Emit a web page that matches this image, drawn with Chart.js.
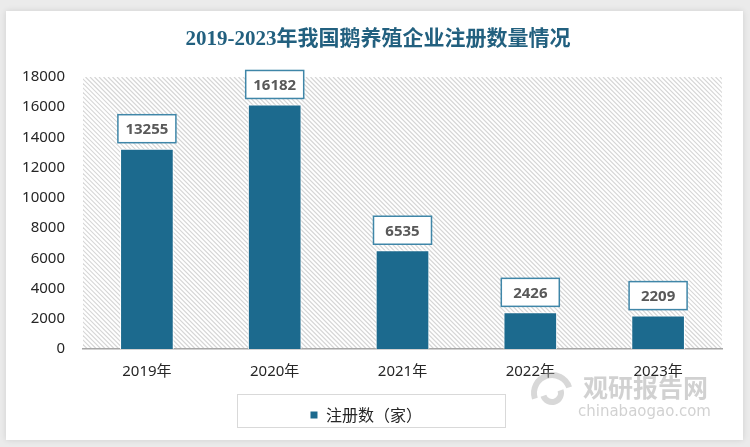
<!DOCTYPE html>
<html>
<head>
<meta charset="utf-8">
<script src="https://cdn.jsdelivr.net/npm/chart.js@4/dist/chart.umd.min.js"></script>
<style>
  html, body { margin: 0; padding: 0; background: #ebebeb; }
  #wrap { width: 750px; height: 447px; position: relative; }
</style>
</head>
<body>
<div id="wrap"><canvas id="regChart" width="750" height="447"></canvas></div>
<script>
// data
var years = ["2019年", "2020年", "2021年", "2022年", "2023年"];
var counts = [13255, 16182, 6535, 2426, 2209];
var seriesName = "注册数（家）";
var titleText = "2019-2023年我国鹅养殖企业注册数量情况";
var yMax = 18000;
var yStep = 2000;

var barColor = "#1c6a8e";
var cjk = '"Noto Sans CJK SC", "Noto Sans", sans-serif';

// white card + title + hatched plot area
var backdrop = {
    id: "backdrop",
    beforeDraw: function(chart) {
	var c = chart.ctx;
	var a = chart.chartArea;
	c.save();
	c.fillStyle = "#ebebeb";
	c.fillRect(0, 0, chart.width, chart.height);
	c.shadowColor = "rgba(0,0,0,0.12)";
	c.shadowBlur = 6;
	c.fillStyle = "#ffffff";
	c.fillRect(6, 11, 737, 429);
	c.shadowBlur = 0;

	// title
	c.fillStyle = "#22607f";
	c.font = 'bold 21px "Liberation Serif", "Noto Sans CJK SC", serif';
	c.textAlign = "center";
	c.textBaseline = "middle";
	c.fillText(titleText, 378, 40);

	// diagonal hatch
	c.beginPath();
	c.rect(a.left, a.top, a.right - a.left, a.bottom - a.top);
	c.clip();
	c.strokeStyle = "#d6d6d6";
	c.lineWidth = 1.2;
	var h = a.bottom - a.top;
	for (var x = a.left - h; x < a.right + h; x += 4.5) {
	    c.beginPath();
	    c.moveTo(x, a.top);
	    c.lineTo(x + h, a.bottom);
	    c.stroke();
	}
	c.restore();
    },
    afterDatasetsDraw: function(chart) {
	var c = chart.ctx;
	var meta = chart.getDatasetMeta(0);
	c.save();
	c.font = 'bold 15px "Noto Sans", sans-serif';
	c.textAlign = "center";
	c.textBaseline = "middle";
	meta.data.forEach(function(bar, i) {
	    var txt = String(counts[i]);
	    var w = 58, h = 28;
	    var bx = bar.x - w / 2, by = bar.y - 6 - h;
	    c.fillStyle = "#ffffff";
	    c.fillRect(bx, by, w, h);
	    c.strokeStyle = "#3f86a8";
	    c.lineWidth = 1.5;
	    c.strokeRect(bx, by, w, h);
	    c.fillStyle = "#595959";
	    c.fillText(txt, bar.x, by + h / 2 + 1);
	});
	c.restore();
    },
    afterDraw: function(chart) {
	var c = chart.ctx;
	c.save();
	// box round the legend
	c.strokeStyle = "#d9d9d9";
	c.lineWidth = 1;
	c.strokeRect(237.5, 394.5, 268, 33);

	// watermark
	c.globalAlpha = 0.45;
	c.fillStyle = "#9a9a9a";
	c.font = 'bold 25px "Noto Sans CJK SC", sans-serif';
	c.textAlign = "left";
	c.textBaseline = "middle";
	c.fillText("观研报告网", 583, 387);
	c.font = '15px "DejaVu Sans", sans-serif';
	c.fillText("chinabaogao.com", 578, 412);
	c.lineWidth = 6;
	c.strokeStyle = "#a8a8a8";
	c.beginPath();
	c.arc(552, 393, 18, Math.PI * 0.9, Math.PI * 1.9);
	c.stroke();
	c.beginPath();
	c.arc(552, 393, 9, Math.PI * 1.9, Math.PI * 0.9);
	c.stroke();
	c.restore();
    }
};

new Chart(document.getElementById("regChart"), {
    type: "bar",
    data: {
	labels: years,
	datasets: [{
	    label: seriesName,
	    data: counts,
	    backgroundColor: barColor,
	    borderColor: "#ffffff",
	    borderWidth: 1,
	    categoryPercentage: 1,
	    barPercentage: 0.42
	}]
    },
    options: {
	responsive: false,
	animation: false,
	devicePixelRatio: 1,
	layout: { padding: { left: 10, right: 28, top: 77, bottom: 14 } },
	plugins: {
	    title: { display: false },
	    tooltip: { enabled: false },
	    legend: {
		position: "bottom",
		labels: {
		    boxWidth: 8,
		    boxHeight: 8,
		    padding: 12,
		    color: "#262626",
		    font: { family: cjk, size: 16 }
		}
	    }
	},
	scales: {
	    x: {
		grid: { display: false, drawTicks: false },
		border: { display: true, color: "#a6a6a6", width: 1.5 },
		ticks: {
		    color: "#262626",
		    padding: 14,
		    font: { family: '"Noto Sans", "Noto Sans CJK SC", sans-serif', size: 15 }
		}
	    },
	    y: {
		min: 0,
		max: yMax,
		afterFit: function(s) { s.width = 73; },
		grid: { display: false, drawTicks: false },
		border: { display: false },
		ticks: {
		    stepSize: yStep,
		    color: "#262626",
		    padding: 18,
		    font: { family: '"Noto Sans", sans-serif', size: 15 },
		    callback: function(v) { return String(v); }
		}
	    }
	}
    },
    plugins: [backdrop]
});
</script>
</body>
</html>
